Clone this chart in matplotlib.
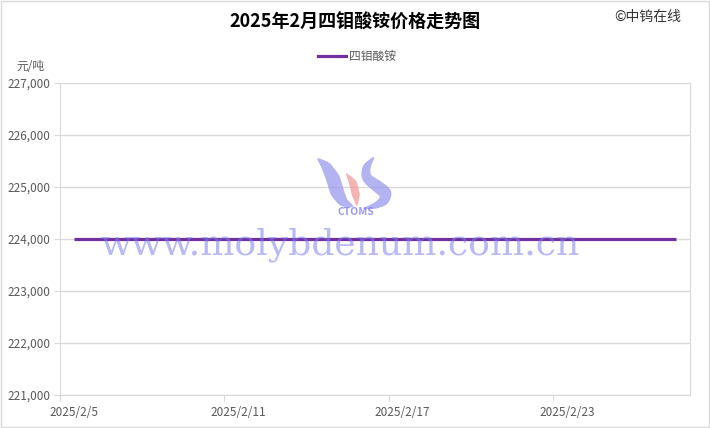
import matplotlib
matplotlib.use("Agg")
import matplotlib.pyplot as plt
import matplotlib.dates as mdates
import numpy as np
import pandas as pd
from matplotlib.patches import Rectangle, Polygon

plt.rcParams['font.family'] = ['Noto Sans CJK SC', 'DejaVu Sans']

title = "2025年2月四钼酸铵价格走势图"
series_name = "四钼酸铵"
dates = pd.date_range("2025-02-05", "2025-02-27", freq="D")
prices = [224000] * len(dates)
y_ticks = [221000, 222000, 223000, 224000, 225000, 226000, 227000]
x_tick_labels = ["2025/2/5", "2025/2/11", "2025/2/17", "2025/2/23"]

fig = plt.figure(figsize=(7.1, 4.28), dpi=100)
W, H = 710, 428
ax = fig.add_axes([60 / W, 1 - 395 / H, 630 / W, 312 / H])

# data at mid-day slots
xs = mdates.date2num(dates) + 0.5
ax.plot(xs, prices, color="#7030A0", lw=2.3, zorder=3, solid_capstyle="butt")

x0 = mdates.date2num(pd.Timestamp("2025-02-05"))
ax.set_xlim(x0, x0 + 23)
ax.set_ylim(y_ticks[0], y_ticks[-1])
ax.set_yticks(y_ticks)
ax.set_yticklabels([f"{v:,}" for v in y_ticks], fontsize=8.5, color="#595959")
tick_pos = [mdates.date2num(pd.Timestamp(s.replace("/", "-"))) for s in x_tick_labels]
ax.set_xticks(tick_pos)
ax.set_xticklabels([])
for p, lab in zip(tick_pos, x_tick_labels):
    ax.text(p + 0.5, -0.035, lab, transform=ax.get_xaxis_transform(),
            ha="center", va="top", fontsize=8.5, color="#595959")
ax.tick_params(axis="x", length=4, color="#d9d9d9", direction="out")
ax.tick_params(axis="y", length=4, color="#d9d9d9", direction="out", pad=3)
ax.grid(axis="y", color="#d9d9d9", lw=1)
ax.set_axisbelow(True)
ax.spines["top"].set_visible(False)
for s in ["left", "bottom", "right"]:
    ax.spines[s].set_color("#d9d9d9")

# unit label
fig.text(45 / W, 1 - 67 / H, "元/吨", ha="right", va="center", fontsize=8.5, color="#595959")

# title
fig.text(355 / W, 1 - 22 / H, title, ha="center", va="center", fontsize=13,
         fontweight="bold", color="#000000")
fig.text(648 / W, 1 - 17 / H, "©中钨在线", ha="center", va="center", fontsize=10, color="#333333")

# legend
fig.add_artist(plt.Line2D([318 / W, 346 / W], [1 - 56 / H, 1 - 56 / H], color="#7030A0", lw=2.3))
fig.text(349 / W, 1 - 56 / H, series_name, ha="left", va="center", fontsize=8.5, color="#595959")

# overlay in pixel coordinates for the watermark logo
ov = fig.add_axes([0, 0, 1, 1], facecolor="none")
ov.set_xlim(0, W)
ov.set_ylim(H, 0)
ov.axis("off")

def stroke(pts, widths, color):
    pts = np.array(pts, float)
    widths = np.array(widths, float)
    t = np.linspace(0, 1, len(pts))
    tt = np.linspace(0, 1, 60)
    px = np.interp(tt, t, pts[:, 0]); py = np.interp(tt, t, pts[:, 1])
    ww = np.interp(tt, t, widths)
    k = np.ones(7) / 7
    pxs = np.convolve(np.pad(px, 3, mode="edge"), k, mode="valid")
    pys = np.convolve(np.pad(py, 3, mode="edge"), k, mode="valid")
    dx = np.gradient(pxs); dy = np.gradient(pys)
    n = np.hypot(dx, dy); nx = -dy / n; ny = dx / n
    left = np.column_stack([pxs + nx * ww / 2, pys + ny * ww / 2])
    right = np.column_stack([pxs - nx * ww / 2, pys - ny * ww / 2])
    poly = np.vstack([left, right[::-1]])
    ov.add_patch(Polygon(poly, closed=True, facecolor=color, edgecolor="none", alpha=0.75))

stroke([(317, 158), (326, 166), (333, 178), (337, 192), (343, 202), (354, 207)],
       [1, 10, 14, 14, 10, 1], "#9a9aee")
stroke([(346, 173), (353, 183), (356, 195), (357, 206)],
       [1, 8, 8, 1], "#f29a9a")
stroke([(375, 156), (366, 167), (366, 178), (377, 186), (386, 193), (384, 201), (375, 206), (362, 209)],
       [1, 8, 10, 12, 13, 10, 6, 1], "#9a9aee")
ov.text(356, 212, "CTOMS", ha="center", va="center", fontsize=7.5,
        fontweight="bold", style="italic", color="#8080ee", alpha=0.8)

# watermark text
ov.text(340, 245, "www.molybdenum.com.cn", ha="center", va="center",
        fontsize=26, family="DejaVu Serif", color="#8080ee", alpha=0.55, zorder=5)

# figure border
ov.add_patch(Rectangle((0.5, 0.5), W - 1.5, H - 1.5, fill=False, edgecolor="#d9d9d9", lw=1))

fig.savefig("out.png", dpi=100)
